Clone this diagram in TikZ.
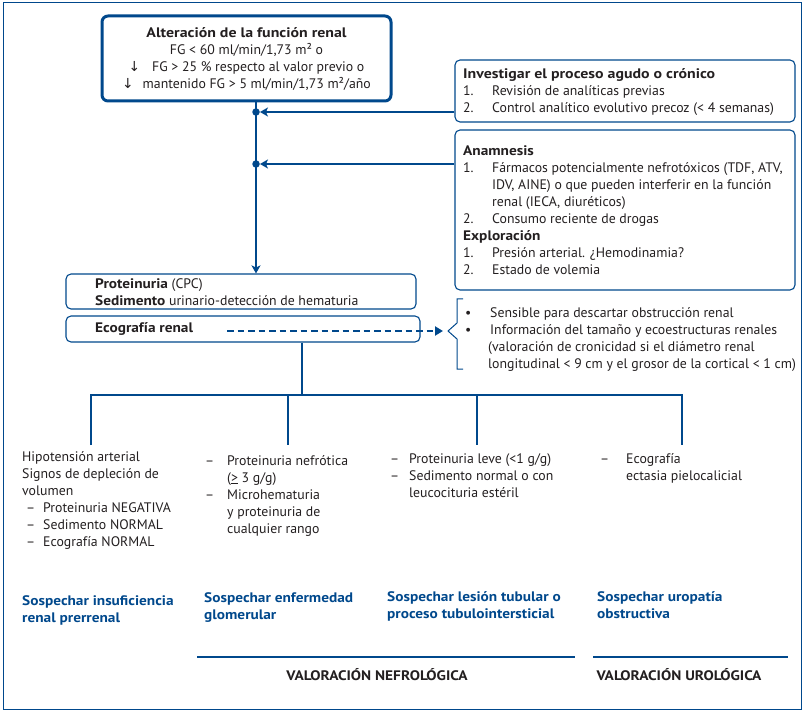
\documentclass[tikz,border=0pt]{standalone}
\usepackage{fontspec}
\setmainfont{PT Sans}[BoldFeatures={FakeStretch=1.11}]
\newfontfamily\widebf{PT Sans}[BoldFeatures={FakeStretch=1.15}]
\newfontfamily\symf{DejaVu Sans}
\usetikzlibrary{arrows.meta,calc}
\definecolor{nblue}{RGB}{0,72,140}
\definecolor{ntext}{RGB}{35,31,32}
\begin{document}
\begin{tikzpicture}[x=1pt,y=-1pt,
  every node/.style={font=\fontsize{13.8}{17}\selectfont},
  txt/.style={anchor=north west, inner sep=0pt, align=left, text=ntext},
  ttl/.style={anchor=north west, inner sep=0pt, align=left, text=nblue, font=\fontsize{13.8}{17}\selectfont\bfseries},
  tbox/.style={draw=nblue, line width=1.1pt, rounded corners=5pt, inner sep=0pt},
  conn/.style={draw=nblue, line width=2.4pt},
  tip/.style={-{Stealth[length=8pt,width=9pt,inset=2pt]}},
  dot/.style={circle, fill=nblue, inner sep=0pt, minimum size=7.5pt},
]
\useasboundingbox (0,0) rectangle (804,714);
\draw[nblue, line width=1pt] (3,3) rectangle (801,709);

% top box
\node[draw=nblue, line width=3pt, rounded corners=6pt, minimum width=289pt, minimum height=85pt,
  inner sep=0pt, align=center, text=ntext] (top) at (246.5,58.5)
  {\strut{\widebf\bfseries Alteración de la función renal}\\
   FG < 60 ml/min/1,73 m² o\\
   {\symf ↓}\hspace{12pt}FG > 25 \% respecto al valor previo o\\
   {\symf ↓}\hspace{9pt}mantenido FG > 5 ml/min/1,73 m²/año};

% right boxes
\node[tbox, minimum width=340pt, minimum height=62pt] (rb1) at (625,91) {};
\node[txt] (rb1t) at (463,66.1)
  {\strut{\widebf\bfseries Investigar el proceso agudo o crónico}\\
   \makebox[29pt][l]{1.}Revisión de analíticas previas\\
   \makebox[29pt][l]{2.}Control analítico evolutivo precoz (< 4 semanas)};

\node[tbox, minimum width=340pt, minimum height=160pt] (rb2) at (625,210) {};
\node[txt] (rb2t) at (463,143.1)
  {\strut\textbf{Anamnesis}\\
   \makebox[29pt][l]{1.}Fármacos potencialmente nefrotóxicos (TDF, ATV,\\
   \hspace*{29pt}IDV, AINE) o que pueden interferir en la función\\
   \hspace*{29pt}renal (IECA, diuréticos)\\
   \makebox[29pt][l]{2.}Consumo reciente de drogas\\
   \textbf{Exploración}\\
   \makebox[29pt][l]{1.}Presión arterial. ¿Hemodinamia?\\
   \makebox[29pt][l]{2.}Estado de volemia};

% left boxes
\node[tbox, minimum width=350pt, minimum height=35pt] (pbox) at (241,291.5) {};
\node[txt] (pboxt) at (95,276.1)
  {\strut\textbf{Proteinuria} (CPC)\\
   \textbf{Sedimento} urinario-detección de hematuria};
\node[tbox, minimum width=354pt, minimum height=26pt] (ebox) at (243,329) {};
\node[txt] (eboxt) at (95,320.1) {\strut\textbf{Ecografía renal}};

% junctions
\node[dot] (j1) at (256,112) {};
\node[dot] (j2) at (256,164) {};
\draw[conn, tip] (top.south -| j1) -- (pbox.north -| j1);
\draw[conn, tip] (rb1.west |- j1) -- (j1.east);
\draw[conn, tip] (rb2.west |- j2) -- (j2.east);

% brace and bullets
\coordinate (bt) at (448,331);
\coordinate (ds) at (227,331);
\draw[nblue, line width=1pt] (463,299) -- (457,299) -- (457,323) -- (bt) -- (457,339) -- (457,369) -- (463,369);
\draw[nblue, line width=2pt, dash pattern=on 6.5pt off 4pt, -{Triangle[length=8pt,width=9pt]}, shorten >=5pt] (ds) -- (bt);
\node[txt] (bul) at (465,305.1)
  {\strut\makebox[25pt][l]{•}Sensible para descartar obstrucción renal\\
   \makebox[25pt][l]{•}Información del tamaño y ecoestructuras renales\\
   \hspace*{23pt}(valoración de cronicidad si el diámetro renal\\
   \hspace*{23pt}longitudinal < 9 cm y el grosor de la cortical < 1 cm)};

% tree
\coordinate (hl) at (302,395);
\coordinate (d1) at (91,445);
\coordinate (d2) at (288,445);
\coordinate (d3) at (477,445);
\coordinate (d4) at (682,445);
\draw[conn] (ebox.south -| hl) -- (hl);
\draw[conn, line join=miter] (d1) -- (d1 |- hl) -- (d4 |- hl) -- (d4);
\draw[conn] (d2 |- hl) -- (d2);
\draw[conn] (d3 |- hl) -- (d3);

% columns
\node[txt] (c1) at (22,449.1)
  {\strut Hipotensión arterial\\
   Signos de depleción de\\
   volumen\\
   \hspace*{4pt}\makebox[17pt][l]{–}Proteinuria NEGATIVA\\
   \hspace*{4pt}\makebox[17pt][l]{–}Sedimento NORMAL\\
   \hspace*{4pt}\makebox[17pt][l]{–}Ecografía NORMAL};
\node[txt] (c2) at (205,453.1)
  {\strut\makebox[22pt][l]{–}Proteinuria nefrótica\\
   \hspace*{22pt}(\underline{>} 3 g/g)\\
   \makebox[22pt][l]{–}Microhematuria\\
   \hspace*{22pt}y proteinuria de\\
   \hspace*{22pt}cualquier rango};
\node[txt] (c3) at (390,451.1)
  {\strut\makebox[19pt][l]{–}Proteinuria leve (<1 g/g)\\
   \makebox[19pt][l]{–}Sedimento normal o con\\
   \hspace*{19pt}leucocituria estéril};
\node[txt] (c4) at (600,451.1)
  {\strut\makebox[26pt][l]{–}Ecografía\\
   \hspace*{26pt}ectasia pielocalicial};

% titles
\node[ttl] (s1) at (22,593.1) {\strut Sospechar insuficiencia\\renal prerrenal};
\node[ttl] (s2) at (204,590.1) {\strut Sospechar enfermedad\\glomerular};
\node[ttl] (s3) at (387,589.1) {\strut Sospechar lesión tubular o\\proceso tubulointersticial};
\node[ttl] (s4) at (597,589.1) {\strut Sospechar uropatía\\obstructiva};

% bottom
\draw[nblue, line width=2.5pt] (197,657) -- (575,657);
\draw[nblue, line width=2.5pt] (593,657) -- (788,657);
\node[anchor=base, inner sep=0pt, text=ntext, font=\fontsize{13.8}{17}\selectfont\bfseries] (vn) at (377,680) {VALORACIÓN NEFROLÓGICA};
\node[anchor=base, inner sep=0pt, text=ntext, font=\fontsize{13.8}{17}\selectfont\bfseries] (vu) at (679,680) {VALORACIÓN UROLÓGICA};
\end{tikzpicture}
\end{document}
